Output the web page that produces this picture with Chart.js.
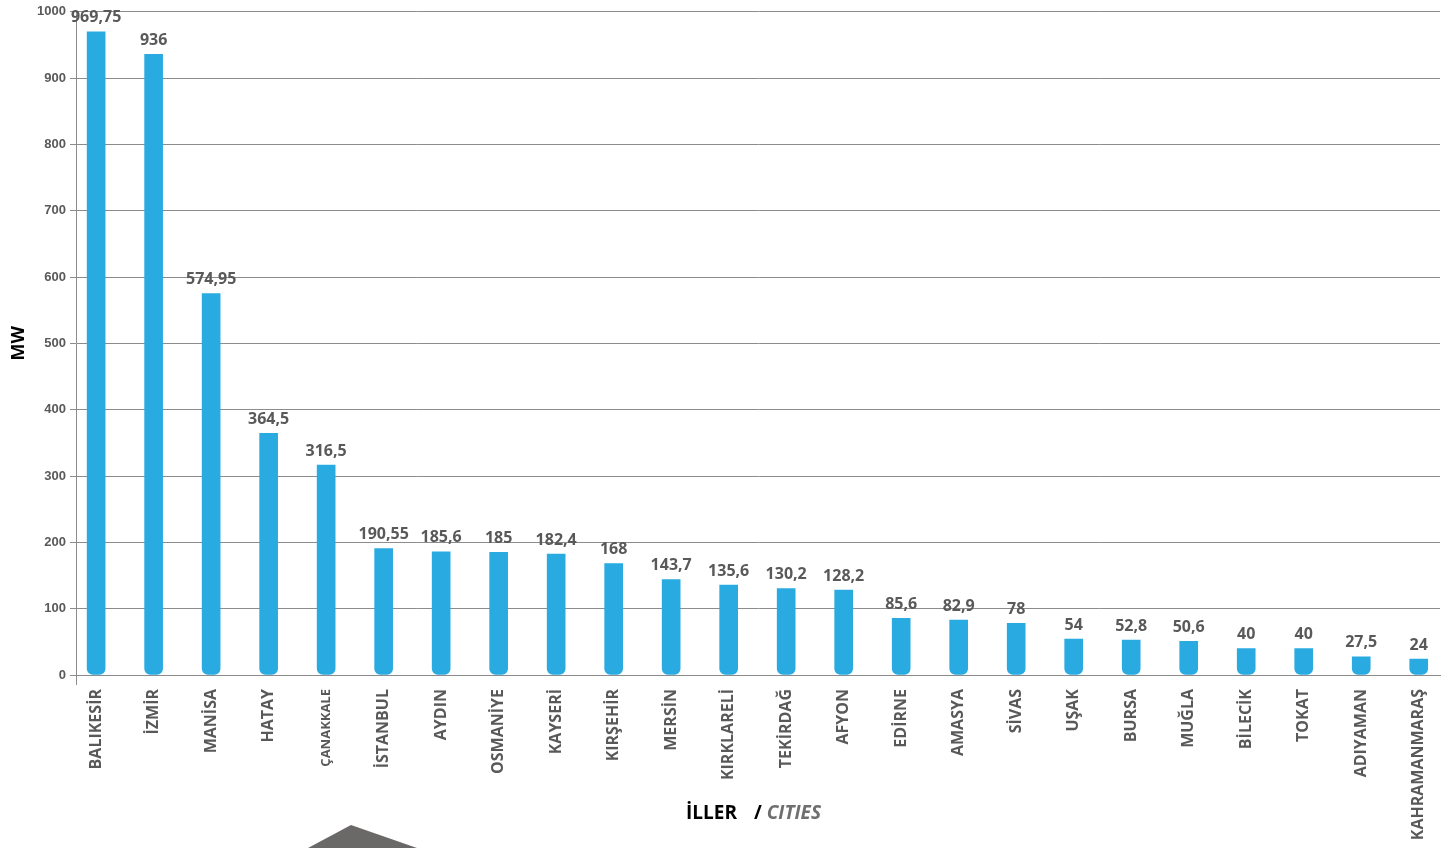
<!DOCTYPE html>
<html>
<head>
<meta charset="utf-8">
<script src="https://cdn.jsdelivr.net/npm/chart.js@4/dist/chart.umd.min.js"></script>
<style>
  html, body { margin: 0; padding: 0; background: #fff; }
  #wrap { position: relative; width: 1456px; height: 848px; overflow: hidden; }
  canvas { display: block; }
  #xtitle { position: absolute; left: 686px; top: 799px; font-family: "Open Sans", sans-serif; font-weight: 700; font-size: 19px; line-height: 26px; white-space: nowrap; color: #000; }
  #xtitle .en { color: #6f6f6f; font-style: italic; }
  #deco { position: absolute; left: 305px; top: 823px; width: 115px; height: 25px; background: #6b6868; clip-path: polygon(46px 2px, 3px 25px, 112px 25px); }
</style>
</head>
<body>
<div id="wrap">
  <canvas id="c" width="1456" height="848"></canvas>
  <div id="xtitle">İLLER<span style="display:inline-block;width:17px"></span>/ <span class="en">CITIES</span></div>
  <div id="deco"></div>
</div>
<script>
const categories = ["BALIKESİR", "İZMİR", "MANİSA", "HATAY", "ÇANAKKALE", "İSTANBUL", "AYDIN", "OSMANİYE", "KAYSERİ", "KIRŞEHİR", "MERSİN", "KIRKLARELİ", "TEKİRDAĞ", "AFYON", "EDİRNE", "AMASYA", "SİVAS", "UŞAK", "BURSA", "MUĞLA", "BİLECİK", "TOKAT", "ADIYAMAN", "KAHRAMANMARAŞ"];
const values = [969.75, 936, 574.95, 364.5, 316.5, 190.55, 185.6, 185, 182.4, 168, 143.7, 135.6, 130.2, 128.2, 85.6, 82.9, 78, 54, 52.8, 50.6, 40, 40, 27.5, 24];
const yTicks = [0, 100, 200, 300, 400, 500, 600, 700, 800, 900, 1000];

const GRID = '#8c8c8c';
const X_MIN = -0.35, X_MAX = 23.37;

const valueLabels = {
  id: 'valueLabels',
  afterDatasetsDraw(chart) {
    const ctx = chart.ctx;
    const meta = chart.getDatasetMeta(0);
    ctx.save();
    ctx.font = 'bold 16px "Open Sans", sans-serif';
    ctx.fillStyle = '#595959';
    ctx.textAlign = 'center';
    ctx.textBaseline = 'bottom';
    meta.data.forEach((bar, i) => {
      ctx.fillText(String(values[i]).replace('.', ','), bar.x, bar.y - 6);
    });
    ctx.restore();
  }
};

new Chart(document.getElementById('c'), {
  type: 'bar',
  data: {
    datasets: [{
      data: values.map((v, i) => ({ x: i, y: v })),
      backgroundColor: '#29abe2',
      barThickness: 18,
      borderRadius: { topLeft: 0, topRight: 0, bottomLeft: 6, bottomRight: 6 },
      borderSkipped: false
    }]
  },
  options: {
    responsive: false,
    animation: false,
    devicePixelRatio: 1,
    layout: { padding: { top: 11, right: 16, left: 4, bottom: 0 } },
    plugins: { legend: { display: false }, tooltip: { enabled: false } },
    scales: {
      x: {
        type: 'linear',
        offset: false,
        min: X_MIN,
        max: X_MAX,
        afterBuildTicks(scale) {
          const t = [{ value: X_MIN }];
          categories.forEach((c, i) => t.push({ value: i }));
          scale.ticks = t;
        },
        afterFit(scale) { scale.height = 173; },
        ticks: {
          autoSkip: false,
          maxRotation: 90,
          minRotation: 90,
          padding: 4,
          color: '#595959',
          font: (ctx) => ({
            family: '"Open Sans", sans-serif',
            weight: 'bold',
            size: (ctx.tick && categories[ctx.tick.value] === 'ÇANAKKALE') ? 13 : 16
          }),
          callback: (v) => Number.isInteger(v) ? categories[v] : ''
        },
        grid: {
          offset: false,
          drawOnChartArea: false,
          tickLength: 10,
          color: (ctx) => (ctx.tick && ctx.tick.value === X_MIN) ? GRID : 'rgba(0,0,0,0)'
        },
        border: { display: true, color: GRID }
      },
      y: {
        min: 0,
        max: 1000,
        afterBuildTicks(scale) { scale.ticks = yTicks.map(v => ({ value: v })); },
        afterFit(scale) { scale.width = 72; },
        ticks: {
          padding: 4,
          color: '#595959',
          font: { family: '"Liberation Sans", Arial, sans-serif', weight: 'bold', size: 13 },
          callback: (v) => String(v)
        },
        grid: { color: GRID, lineWidth: 1, tickLength: 6 },
        border: { display: true, color: GRID },
        title: {
          display: true,
          text: 'MW',
          color: '#000',
          font: { family: '"Open Sans", sans-serif', weight: 'bold', size: 18 }
        }
      }
    }
  },
  plugins: [valueLabels]
});
</script>
</body>
</html>
